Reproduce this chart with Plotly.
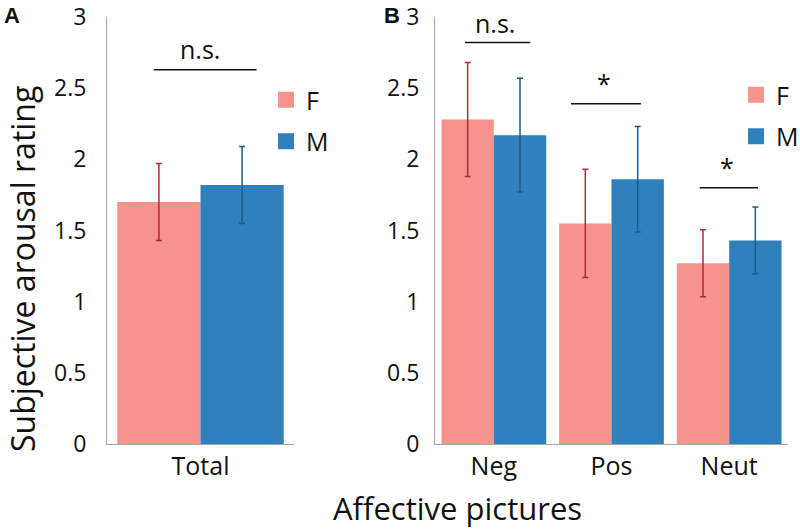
import plotly.graph_objects as go

# ---- data ----
total_cats = ["Total"]
total_f = [1.70]
total_f_err = [0.27]
total_m = [1.82]
total_m_err = [0.27]

pic_cats = ["Neg", "Pos", "Neut"]
pic_f = [2.28, 1.55, 1.27]
pic_f_err = [0.40, 0.38, 0.235]
pic_m = [2.17, 1.86, 1.43]
pic_m_err = [0.40, 0.37, 0.235]

sig_labels_a = ["n.s."]
sig_y_a = [2.63]
sig_labels_b = ["n.s.", "*", "*"]
sig_y_b = [2.82, 2.39, 1.80]

y_ticks = [0, 0.5, 1, 1.5, 2, 2.5, 3]
y_ticktext = ["0", "0.5", "1", "1.5", "2", "2.5", "3"]

# ---- style ----
W, H = 800, 531
FONT = "Open Sans"
C_F = "#F4948C"
C_M = "#2F80BC"
E_F = "#B02A35"
E_M = "#1B5C8E"
AX = "#A6A6A6"


def px(x):
    return x / W


def py(y):
    return 1 - y / H


fig = go.Figure()


def bars(x, y, err, color, ecolor, xa, ya):
    return go.Bar(x=x, y=y, marker=dict(color=color, line=dict(width=0)),
                  error_y=dict(type="data", array=err, color=ecolor, thickness=1.5, width=3),
                  xaxis=xa, yaxis=ya, showlegend=False)


fig.add_trace(bars(total_cats, total_f, total_f_err, C_F, E_F, "x", "y"))
fig.add_trace(bars(total_cats, total_m, total_m_err, C_M, E_M, "x", "y"))
fig.add_trace(bars(pic_cats, pic_f, pic_f_err, C_F, E_F, "x2", "y2"))
fig.add_trace(bars(pic_cats, pic_m, pic_m_err, C_M, E_M, "x2", "y2"))

# legend-only entries
for lg, xa, ya in [("legend", "x", "y"), ("legend2", "x2", "y2")]:
    for name, col in [("F", C_F), ("M", C_M)]:
        fig.add_trace(go.Scatter(x=[None], y=[None], mode="markers", name=name,
                                 marker=dict(symbol="square", size=17, color=col),
                                 xaxis=xa, yaxis=ya, legend=lg, legendgroup=lg + name))

ydom = [py(444), py(17)]
axis_common = dict(showgrid=False, zeroline=False, showline=True, linecolor=AX, linewidth=1,
                   ticks="", fixedrange=True, automargin=False, ticklabeloverflow="allow")
fig.update_layout(
    width=W, height=H, margin=dict(l=0, r=0, t=0, b=0, autoexpand=False),
    paper_bgcolor="white", plot_bgcolor="white",
    font=dict(family=FONT, color="#111111"),
    barmode="group", bargap=0.11, bargroupgap=0,
    xaxis=dict(domain=[px(107), px(294)], anchor="y", tickfont=dict(size=25), **axis_common),
    yaxis=dict(domain=ydom, range=[0, 3], anchor="x", tickvals=y_ticks, ticktext=y_ticktext,
               tickfont=dict(size=23), ticklabelstandoff=15, **axis_common),
    xaxis2=dict(domain=[px(435), px(788)], anchor="y2", tickfont=dict(size=25), **axis_common),
    yaxis2=dict(domain=ydom, range=[0, 3], anchor="x2", tickvals=y_ticks, ticktext=y_ticktext,
                tickfont=dict(size=23), ticklabelstandoff=10, **axis_common),
    legend=dict(x=px(266), y=py(77), xanchor="left", yanchor="top", font=dict(size=25),
                bgcolor="rgba(0,0,0,0)", tracegroupgap=6, itemwidth=30),
    legend2=dict(x=px(736), y=py(72), xanchor="left", yanchor="top", font=dict(size=25),
                 bgcolor="rgba(0,0,0,0)", tracegroupgap=6, itemwidth=30),
)

# significance bars
shapes = []
annots = []
sig_a_span = [(-0.25, 0.3)]
for (x0, x1), yv, lab in zip(sig_a_span, sig_y_a, sig_labels_a):
    shapes.append(dict(type="line", xref="x", yref="y", x0=x0, x1=x1, y0=yv, y1=yv,
                       line=dict(color="#111111", width=1.5)))
    annots.append(dict(xref="x", yref="y", x=(x0 + x1) / 2 - 0.03, y=yv, text=lab, showarrow=False,
                       yanchor="bottom", yshift=2, font=dict(size=25)))
sig_b_span = [(-0.245, 0.31), (1 - 0.344, 1 + 0.25), (2 - 0.25, 2 + 0.245)]
for (x0, x1), yv, lab in zip(sig_b_span, sig_y_b, sig_labels_b):
    shapes.append(dict(type="line", xref="x2", yref="y2", x0=x0, x1=x1, y0=yv, y1=yv,
                       line=dict(color="#111111", width=1.5)))
    annots.append(dict(xref="x2", yref="y2", x=(x0 + x1) / 2 - 0.02, y=yv, text=lab, showarrow=False,
                       yanchor="bottom", yshift=1 if lab == "n.s." else 2, font=dict(size=25)))

annots += [
    dict(xref="paper", yref="paper", x=px(12), y=py(16), text="<b>A</b>", showarrow=False,
         font=dict(size=22, family="Liberation Sans"), xanchor="center", yanchor="middle"),
    dict(xref="paper", yref="paper", x=px(392), y=py(16), text="<b>B</b>", showarrow=False,
         font=dict(size=22, family="Liberation Sans"), xanchor="center", yanchor="middle"),
    dict(xref="paper", yref="paper", x=px(22), y=py(269), text="Subjective arousal rating",
         textangle=-90, showarrow=False, font=dict(size=32), xanchor="center", yanchor="middle"),
    dict(xref="paper", yref="paper", x=px(457), y=py(508), text="Affective pictures",
         showarrow=False, font=dict(size=31), xanchor="center", yanchor="middle"),
]
fig.update_layout(shapes=shapes, annotations=annots)

fig.write_html("out.html", config={"displayModeBar": False},
               post_script="document.body.style.margin='0';")
